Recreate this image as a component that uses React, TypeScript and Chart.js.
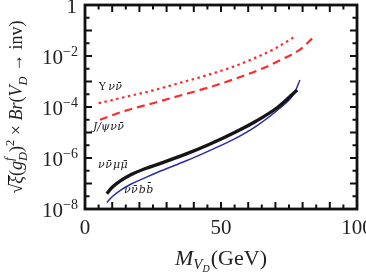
import React, { useEffect, useRef } from "react";
import { Chart, registerables } from "chart.js";

Chart.register(...registerables);

// ---- data ----
const upsilonMass = [5, 15, 25, 35, 45, 55, 62, 70, 77];
const upsilonBr = [1.41e-4, 2.51e-4, 4.47e-4, 8.91e-4, 1.78e-3, 3.98e-3, 7.94e-3, 2.0e-2, 5.62e-2];

const jpsiMass = [5.5, 15, 25, 35, 45, 55, 65, 73, 79, 83.5];
const jpsiBr = [3.16e-5, 7.24e-5, 1.41e-4, 2.82e-4, 5.62e-4, 1.26e-3, 3.16e-3, 7.94e-3, 1.78e-2, 4.79e-2];

const muMass = [8, 10, 13, 17, 22, 28, 37, 46, 55, 63, 71, 78];
const muBr = [3.98e-8, 7.08e-8, 1.26e-7, 2.24e-7, 3.8e-7, 6.31e-7, 1.41e-6, 3.55e-6, 1.0e-5, 2.82e-5, 1.0e-4, 4.68e-4];

const bMass = [8, 10, 13, 17, 22, 28, 37, 46, 55, 63, 71, 77, 79];
const bBr = [1.78e-8, 3.02e-8, 5.37e-8, 9.55e-8, 1.66e-7, 3.16e-7, 7.59e-7, 2.0e-6, 5.62e-6, 1.78e-5, 7.94e-5, 3.55e-4, 1.15e-3];

const xTickValues = [0, 50, 100];
const xTickLabels = ["0", "50", "100"];
const yTickExponents = [0, -2, -4, -6, -8];

// curve label anchors (data coordinates)
const labelMass = [5.1, 2.9, 4.8, 14.3];
const labelBr = [4.7e-4, 1.26e-5, 4.1e-7, 4.3e-8];

const FF = '"Liberation Serif", "DejaVu Serif", serif';
const LF = '"DejaVu Serif", serif';
const R = (s: number) => `${s}px ${FF}`;
const I = (s: number) => `italic ${s}px ${FF}`;
const LI = (s: number) => `italic ${s}px ${LF}`;
const LR = (s: number) => `${s}px ${LF}`;

type Seg = { t: string; font: string; dy?: number; adv?: number; over?: boolean; gap?: number };

function segsWidth(ctx: CanvasRenderingContext2D, segs: Seg[]) {
  let w = 0;
  for (const s of segs) {
    ctx.font = s.font;
    w += (s.adv !== undefined ? s.adv : ctx.measureText(s.t).width) + (s.gap || 0);
  }
  return w;
}

function drawSegs(
  ctx: CanvasRenderingContext2D,
  segs: Seg[],
  x: number,
  y: number,
  align: "left" | "center" | "right"
) {
  const w = segsWidth(ctx, segs);
  let cx = align === "left" ? x : align === "center" ? x - w / 2 : x - w;
  ctx.textAlign = "left";
  ctx.textBaseline = "alphabetic";
  for (const s of segs) {
    ctx.font = s.font;
    const mw = ctx.measureText(s.t).width;
    ctx.fillText(s.t, cx, y + (s.dy || 0));
    if (s.over) {
      ctx.save();
      ctx.lineWidth = 1;
      ctx.beginPath();
      ctx.moveTo(cx - 1, y - 13.5);
      ctx.lineTo(cx + mw + 1, y - 13.5);
      ctx.stroke();
      ctx.restore();
    }
    cx += (s.adv !== undefined ? s.adv : mw) + (s.gap || 0);
  }
}

const framePlugin = {
  id: "framePlugin",
  afterDraw(chart: any) {
    const ctx: CanvasRenderingContext2D = chart.ctx;
    const xs = chart.scales.x;
    const ys = chart.scales.y;
    const { left, right, top, bottom } = chart.chartArea;
    ctx.save();
    ctx.strokeStyle = "#111";
    ctx.fillStyle = "#111";

    // ticks (inward)
    ctx.lineWidth = 2;
    ctx.beginPath();
    for (let v = 5; v < 100; v += 5) {
      const px = xs.getPixelForValue(v);
      const len = v % 10 === 0 ? 7 : 4.5;
      ctx.moveTo(px, bottom);
      ctx.lineTo(px, bottom - len);
      ctx.moveTo(px, top);
      ctx.lineTo(px, top + len);
    }
    for (let e = -15; e < 0; e += 1) {
      const v = Math.pow(10, e / 2);
      const py = ys.getPixelForValue(v);
      const len = e % 2 === 0 ? 7 : 4.5;
      ctx.moveTo(left, py);
      ctx.lineTo(left + len, py);
      ctx.moveTo(right, py);
      ctx.lineTo(right - len, py);
    }
    ctx.stroke();

    // frame
    ctx.lineWidth = 2.8;
    ctx.strokeRect(left, top, right - left, bottom - top);

    // x tick labels
    ctx.fillStyle = "#222";
    ctx.textAlign = "center";
    ctx.textBaseline = "alphabetic";
    ctx.font = R(21);
    xTickValues.forEach((v, i) => {
      ctx.fillText(xTickLabels[i], xs.getPixelForValue(v), 234);
    });

    // y tick labels
    yTickExponents.forEach((e) => {
      const py = ys.getPixelForValue(Math.pow(10, e)) + 8;
      if (e === 0) {
        drawSegs(ctx, [{ t: "1", font: R(21) }], 77, py, "right");
      } else {
        drawSegs(
          ctx,
          [
            { t: "10", font: R(21) },
            { t: "\u2212" + String(-e), font: R(14), dy: -8 },
          ],
          78,
          py,
          "right"
        );
      }
    });

    // x title
    drawSegs(
      ctx,
      [
        { t: "M", font: I(22) },
        { t: "V", font: I(15), dy: 4 },
        { t: "D", font: I(10), dy: 7, gap: 1 },
        { t: "(GeV)", font: R(22) },
      ],
      (left + right) / 2,
      265,
      "center"
    );

    // y title (rotated)
    ctx.save();
    ctx.translate(22, (top + bottom) / 2);
    ctx.rotate(-Math.PI / 2);
    ctx.font = I(12.5);
    const dW = ctx.measureText("D").width;
    drawSegs(
      ctx,
      [
        { t: "\u221A", font: R(18) },
        { t: "\u03BE", font: I(18), over: true },
        { t: "(", font: R(18) },
        { t: "g", font: I(18) },
        { t: "D", font: I(12.5), dy: 5, adv: 0 },
        { t: "f", font: I(12.5), dy: -9, adv: dW },
        { t: ")", font: R(18) },
        { t: "2", font: R(12.5), dy: -8 },
        { t: " \u00D7 ", font: R(18) },
        { t: "Br", font: I(18) },
        { t: "(", font: R(18) },
        { t: "V", font: I(18) },
        { t: "D", font: I(12.5), dy: 5 },
        { t: " \u2192 inv)", font: R(18) },
      ],
      0,
      0,
      "center"
    );
    ctx.restore();

    // curve labels
    const labels: Seg[][] = [
      [
        { t: "\u03A5", font: LR(11), gap: 2 },
        { t: "\u03BD", font: LI(11), gap: 0.5 },
        { t: "\u03BD\u0304", font: LI(11) },
      ],
      [
        { t: "J/\u03C8", font: LI(11), gap: 0.5 },
        { t: "\u03BD", font: LI(11), gap: 0.5 },
        { t: "\u03BD\u0304", font: LI(11) },
      ],
      [
        { t: "\u03BD", font: LI(11), gap: 0.5 },
        { t: "\u03BD\u0304", font: LI(11), gap: 1 },
        { t: "\u03BC", font: LI(11), gap: 0.5 },
        { t: "\u03BC\u0304", font: LI(11) },
      ],
      [
        { t: "\u03BD", font: LI(11), gap: 0.5 },
        { t: "\u03BD\u0304", font: LI(11), gap: 1 },
        { t: "b", font: LI(11), gap: 0.5 },
        { t: "b\u0304", font: LI(11) },
      ],
    ];
    ctx.fillStyle = "#222";
    labels.forEach((segs, i) => {
      drawSegs(
        ctx,
        segs,
        xs.getPixelForValue(labelMass[i]),
        ys.getPixelForValue(labelBr[i]),
        "left"
      );
    });

    ctx.restore();
  },
};

function pts(xsArr: number[], ysArr: number[]) {
  return xsArr.map((x, i) => ({ x, y: ysArr[i] }));
}

export default function App() {
  const ref = useRef<HTMLCanvasElement | null>(null);

  useEffect(() => {
    if (!ref.current) return;
    const chart = new Chart(ref.current, {
      type: "line",
      data: {
        datasets: [
          {
            data: pts(upsilonMass, upsilonBr),
            borderColor: "#ff2b2b",
            borderWidth: 2.2,
            borderDash: [2.5, 3.5],
            pointRadius: 0,
            cubicInterpolationMode: "monotone",
          },
          {
            data: pts(jpsiMass, jpsiBr),
            borderColor: "#ff2b2b",
            borderWidth: 2.2,
            borderDash: [8, 5],
            pointRadius: 0,
            cubicInterpolationMode: "monotone",
          },
          {
            data: pts(muMass, muBr),
            borderColor: "#151515",
            borderWidth: 3.4,
            pointRadius: 0,
            cubicInterpolationMode: "monotone",
          },
          {
            data: pts(bMass, bBr),
            borderColor: "#2a2aa8",
            borderWidth: 1.5,
            pointRadius: 0,
            cubicInterpolationMode: "monotone",
          },
        ],
      },
      options: {
        responsive: false,
        maintainAspectRatio: false,
        devicePixelRatio: 1,
        animation: false,
        layout: { padding: { left: 85, right: 9, top: 5, bottom: 63 } },
        plugins: { legend: { display: false }, tooltip: { enabled: false } },
        scales: {
          x: { type: "linear", min: 0, max: 100, display: false },
          y: { type: "logarithmic", min: 1e-8, max: 1, display: false },
        },
      },
      plugins: [framePlugin],
    } as any);
    return () => chart.destroy();
  }, []);

  return (
    <div style={{ position: "fixed", left: 0, top: 0, width: 366, height: 272, background: "#fff" }}>
      <canvas ref={ref} width={366} height={272} style={{ display: "block" }} />
    </div>
  );
}
